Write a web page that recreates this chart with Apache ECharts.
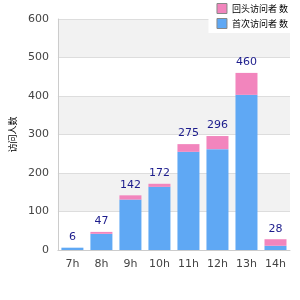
<!DOCTYPE html>
<html>
<head>
<meta charset="utf-8">
<script src="https://cdn.jsdelivr.net/npm/echarts@6/dist/echarts.min.js"></script>
<style>
  html, body { margin: 0; padding: 0; background: #fff; }
  #chart { width: 300px; height: 300px; }
</style>
</head>
<body>
<div id="chart"></div>
<script>
// 資料
const hours = ["7h", "8h", "9h", "10h", "11h", "12h", "13h", "14h"];
const newVisitors = [6, 42, 131, 164, 255, 262, 403, 11];    // 藍色 (下)
const returnVisitors = [0, 5, 11, 8, 20, 34, 57, 17];        // 粉色 (上)
const totals = [6, 47, 142, 172, 275, 296, 460, 28];
const seriesNames = ["回头访问者 数", "首次访问者 数"];
const yAxisName = "访问人数";

const chart = echarts.init(document.getElementById("chart"));

const option = {
  animation: false,
  textStyle: { fontFamily: "DejaVu Sans, sans-serif" },
  grid: { left: 50, right: 10, top: 19, bottom: 50 },
  legend: {
    orient: "vertical",
    right: 0,
    top: 0,
    padding: [3, 12, 4, 8],
    itemGap: 4,
    itemWidth: 10,
    itemHeight: 10,
    backgroundColor: "#fff",
    icon: "rect",
    textStyle: { fontSize: 9, color: "#000", fontFamily: "Noto Sans CJK SC" },
    data: [
      { name: seriesNames[0], itemStyle: { borderColor: "#888", borderWidth: 1 } },
      { name: seriesNames[1], itemStyle: { borderColor: "#888", borderWidth: 1 } }
    ]
  },
  xAxis: {
    type: "category",
    data: hours,
    axisLine: { lineStyle: { color: "#ccc" } },
    axisTick: { show: false },
    axisLabel: { color: "#444", fontSize: 11, margin: 9 }
  },
  yAxis: {
    type: "value",
    min: 0,
    max: 600,
    interval: 100,
    name: yAxisName,
    nameLocation: "middle",
    nameGap: 40,
    nameTextStyle: { fontSize: 9, color: "#000", fontFamily: "Noto Sans CJK SC" },
    axisLine: { show: true, lineStyle: { color: "#ccc" } },
    axisTick: { show: false },
    axisLabel: { color: "#444", fontSize: 11, margin: 9 },
    splitLine: { lineStyle: { color: "#ddd" } },
    splitArea: { show: true, areaStyle: { color: ["#fff", "#f2f2f2"] } }
  },
  series: [
    {
      name: seriesNames[1],
      type: "bar",
      stack: "total",
      barWidth: 22,
      itemStyle: { color: "#5fa8f4" },
      data: newVisitors
    },
    {
      name: seriesNames[0],
      type: "bar",
      stack: "total",
      barWidth: 22,
      itemStyle: { color: "#f285bd" },
      label: {
        show: true,
        position: "top",
        distance: 5,
        color: "#1c1c8c",
        fontSize: 11,
        formatter: p => totals[p.dataIndex]
      },
      data: returnVisitors
    }
  ]
};

chart.setOption(option);
</script>
</body>
</html>
